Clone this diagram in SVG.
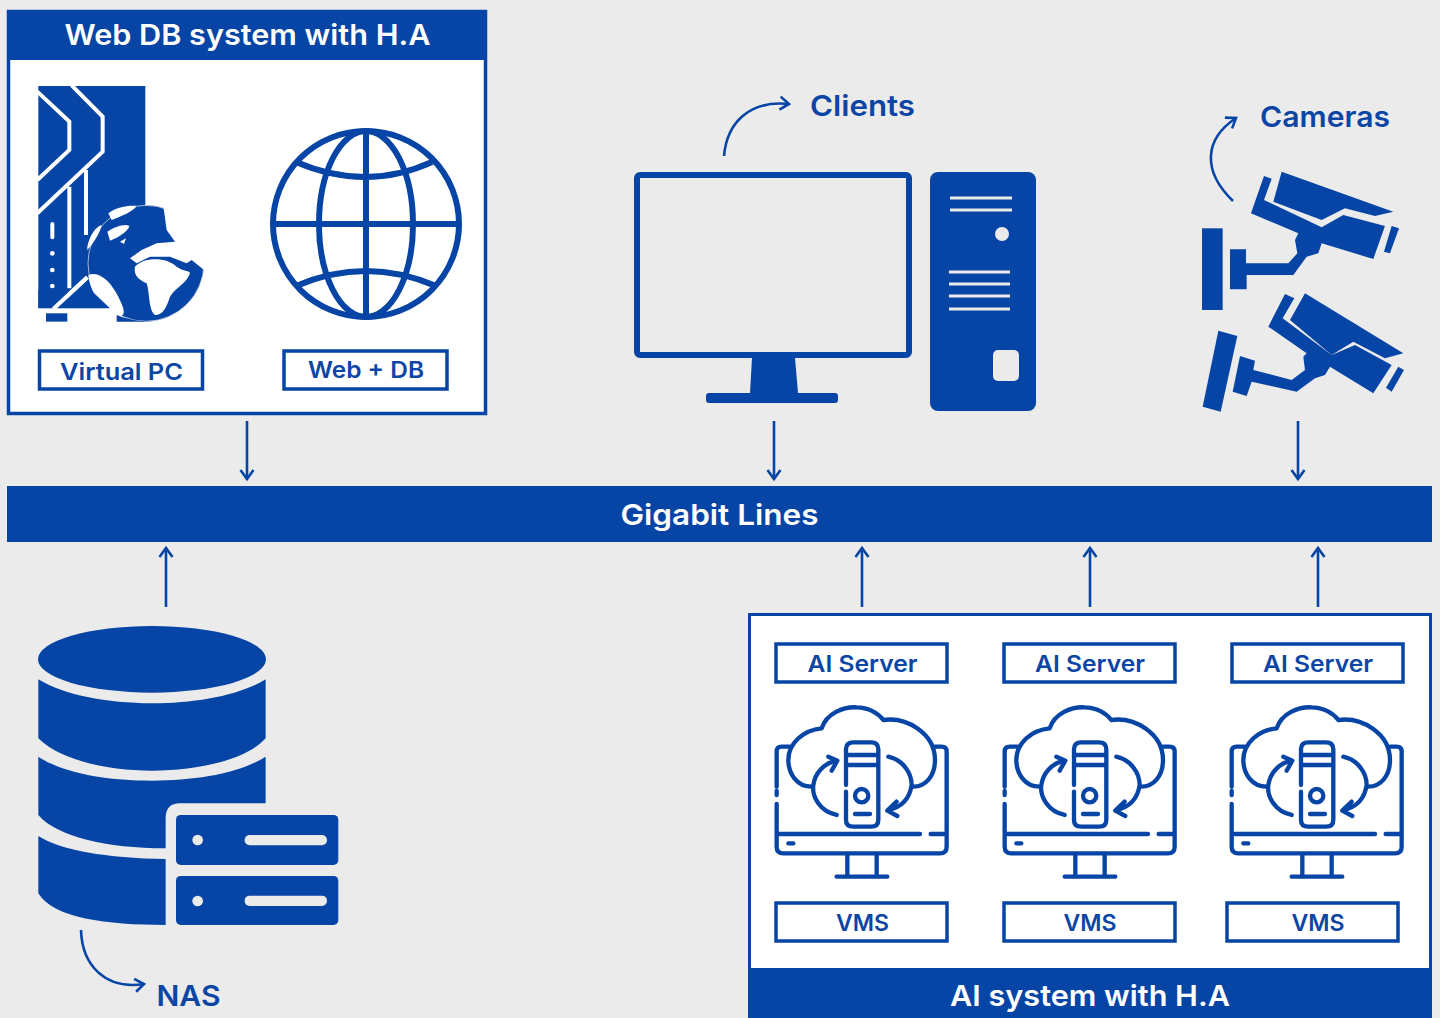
<svg xmlns="http://www.w3.org/2000/svg" width="1440" height="1018" viewBox="0 0 1440 1018">
<style>
text{font-family:"Inter","Liberation Sans",sans-serif;font-weight:600;text-anchor:middle;fill:#0b45a5}
.w{fill:#fff}
.b{fill:#0645a5}
.bg{fill:#ebebeb}
.box{fill:#fff;stroke:#0645a5;stroke-width:3.5}
.conn{fill:none;stroke:#0645a5;stroke-width:2.6}
.ic{fill:none;stroke:#0645a5;stroke-width:13;stroke-linecap:round;stroke-linejoin:round}
.wl{fill:none;stroke:#fff;stroke-width:12;stroke-linejoin:miter}
.gl{fill:none;stroke:#0645a5;stroke-width:6}
.t1{font-size:29px}
.t2{font-size:23px}
</style>
<defs>
<marker id="ah" viewBox="0 0 16 16" refX="13" refY="8" markerWidth="16" markerHeight="16" markerUnits="userSpaceOnUse" orient="auto"><path d="M4 1.5 L13 8 L4 14.500" fill="none" stroke="#0645a5" stroke-width="2.600"/></marker>
<g id="cloudIcon" class="ic" transform="translate(760 630) scale(.3333)">
<path d="M90 350H65Q50 350 50 365V470M50 483V495M50 522V650Q50 670 70 670H540Q560 670 560 650V365Q560 350 545 350H525M55 612H480M512 612H555M85 640H100M262 675V738M350 675V738M230 740H382"/>
<path d="M155 470C110 470 85 430 85 390C85 340 130 300 185 295C200 250 250 230 290 232C325 232 355 250 370 270C440 260 525 310 525 390C525 440 495 470 460 470"/>
<path d="M258 465V358Q258 337 280 337H333Q355 337 355 358V570Q355 590 333 590H280Q258 590 258 570V485M258 375H355M258 405H355M285 552H330"/>
<circle cx="305" cy="497" r="20"/>
<path d="M230 555C180 545 155 500 160 465C165 430 190 400 230 392M205 380L232 392L215 422"/>
<path d="M385 380C430 390 455 430 455 465C450 500 430 530 385 540M410 515L382 542L412 558"/>
</g>
</defs>
<rect class="bg" width="1440" height="1018"/>

<g id="connectors">
<path class="conn" marker-end="url(#ah)" d="M247 421V479"/>
<path class="conn" marker-end="url(#ah)" d="M774 421V479"/>
<path class="conn" marker-end="url(#ah)" d="M1298 421V479"/>
<path class="conn" marker-end="url(#ah)" d="M166 607V548"/>
<path class="conn" marker-end="url(#ah)" d="M862 607V548"/>
<path class="conn" marker-end="url(#ah)" d="M1090 607V548"/>
<path class="conn" marker-end="url(#ah)" d="M1318 607V548"/>
<path class="conn" marker-end="url(#ah)" d="M724 156C727 122 750 100 789 104"/>
<path class="conn" marker-end="url(#ah)" d="M1233 201C1203 172 1203 140 1236 118"/>
<path class="conn" marker-end="url(#ah)" d="M81 930C82 965 105 990 144 984"/>
</g>

<g id="web-db-system">
<rect class="box" x="8.500" y="11.500" width="477" height="402"/>
<rect class="b" x="7" y="10" width="480" height="50"/>
<text x="247.500" y="45" class="t1 w" textLength="366" lengthAdjust="spacingAndGlyphs" style="fill:#fff">Web DB system with H.A</text>
<g id="virtual-pc-icon" transform="scale(.3333)">
<path class="b" d="M115 258H436V925H115Z"/>
<circle class="b" cx="438" cy="790" r="174" stroke="#eeeeee" stroke-width="2"/>
<path class="w" d="M490 618L500 690L525 725L470 730L425 750L390 775L410 790L450 770L510 770L560 790L575 780L612 810L640 700L560 590Z"/>
<path class="w" d="M405 800C430 770 500 770 530 800C550 815 570 810 570 820C560 850 530 860 510 890C500 920 490 945 465 945C445 930 450 880 440 850C420 840 400 830 405 800Z"/>
<path class="w" d="M265 825C300 810 335 850 355 890C375 930 380 950 350 950C310 930 270 880 265 825Z"/>
<path class="w" d="M325 640C350 620 390 615 410 618C400 635 360 650 335 660Z"/>
<path class="w" d="M322 695C345 680 375 670 388 678C385 695 350 715 330 722Z"/>
<path class="w" d="M360 725L378 715L372 732Z"/>
<path class="w" d="M262 740C270 700 290 680 305 675C300 700 280 730 262 750Z"/>
<path class="wl" d="M112 275L208 365V450L112 540"/>
<path class="wl" d="M215 256L308 350V455L112 640"/>
<path class="wl" d="M208 560V865M258 510V705M262 832L160 927"/>
<path class="w" d="M340 925H115V970H350Z"/>
<path class="b" d="M115 870H205V925H115ZM185 925L262 860L330 925Z"/>
<path class="wl" d="M262 832L160 927"/>
<path class="wl" d="M157 672V712" stroke-linecap="round"/>
<circle class="w" cx="157" cy="760" r="7"/><circle class="w" cx="157" cy="810" r="7"/><circle class="w" cx="157" cy="858" r="7"/>
<rect class="b" x="138" y="940" width="64" height="25"/>
<path class="b" d="M350 945C400 965 440 965 470 965H350Z"/>
</g>
<g id="globe-icon">
<circle class="gl" cx="366" cy="224" r="93"/>
<ellipse class="gl" cx="366" cy="224" rx="47" ry="93"/>
<path class="gl" d="M366 131V317M273 224H459M296 162Q366 192 432 162M296 286Q366 256 436 286"/>
</g>
<g id="virtual-pc-label"><rect class="box" x="39.500" y="351" width="163" height="38"/><text x="121.500" y="380" class="t2" textLength="123" lengthAdjust="spacingAndGlyphs">Virtual PC</text></g>
<g id="web-db-label"><rect class="box" x="284" y="351" width="163" height="38"/><text x="366" y="378" class="t2" textLength="116" lengthAdjust="spacingAndGlyphs">Web + DB</text></g>
</g>

<g id="clients">
<rect x="637" y="175" width="272" height="180" rx="3" fill="none" stroke="#0645a5" stroke-width="6"/>
<path class="b" d="M752 358H795L798 393H750Z"/>
<rect class="b" x="706" y="393" width="132" height="10" rx="3"/>
<rect class="b" x="930" y="172" width="106" height="239" rx="8"/>
<path d="M950 198H1012M950 210H1012M949 272H1010M949 284H1010M949 296H1010M949 309H1010" stroke="#ebebeb" stroke-width="3" fill="none"/>
<circle class="bg" cx="1002" cy="234" r="7"/>
<rect class="bg" x="993" y="350" width="26" height="31" rx="5"/>
<text x="862.500" y="116" class="t1" textLength="105" lengthAdjust="spacingAndGlyphs">Clients</text>
</g>

<g id="cameras">
<g transform="translate(1190 90) scale(.3333)" class="b">
<path d="M275 245L610 365L555 378L465 355L395 390L250 335Z"/>
<path d="M222 258L245 266L222 330L395 412L460 375L585 408L550 507L395 460L385 490L350 500L310 555H170V598H120V478H168V520H295L322 490L315 450L325 430L183 370Z"/>
<path d="M605 408L627 415L600 490L582 485Z"/>
<rect x="36" y="415" width="62" height="245"/>
<path d="M345 610L640 790L585 805L490 755L425 795L300 690Z"/>
<path d="M285 612L313 625L278 685L425 795L495 765L605 825L550 910L420 830L405 855L375 865L320 905L185 875L170 918L128 905L150 798L195 812L190 840L305 870L345 840L340 800L350 790L235 710Z"/>
<path d="M625 830L642 840L605 905L588 893Z"/>
<path d="M85 722L142 738L92 965L38 950Z"/>
</g>
<text x="1325" y="127" class="t1" textLength="130" lengthAdjust="spacingAndGlyphs">Cameras</text>
</g>

<g id="gigabit-lines">
<rect class="b" x="7" y="486" width="1425" height="56"/>
<text x="719.500" y="525" class="t1" textLength="198" lengthAdjust="spacingAndGlyphs" style="fill:#fff">Gigabit Lines</text>
</g>

<g id="nas">
<g transform="translate(20 610) scale(.3333)">
<ellipse class="b" cx="396" cy="148" rx="342" ry="100"/>
<path class="b" d="M55 208C130 255 260 280 396 280C530 280 660 255 737 208V385C680 450 530 482 396 482C260 482 120 450 55 385Z"/>
<path class="b" d="M55 440C130 490 260 512 396 512C530 512 660 490 737 440V580H480Q437 580 437 625V715C260 715 110 680 55 615Z"/>
<path class="b" d="M55 678C120 720 260 745 437 747V945C260 945 100 925 55 850Z"/>
<rect class="b" x="468" y="615" width="487" height="150" rx="14"/>
<rect class="b" x="468" y="798" width="487" height="147" rx="14"/>
<circle class="bg" cx="533" cy="690" r="16"/><circle class="bg" cx="533" cy="873" r="16"/>
<rect class="bg" x="674" y="675" width="247" height="31" rx="15"/>
<rect class="bg" x="674" y="857" width="247" height="31" rx="15"/>
</g>
<text x="188.500" y="1006" class="t1" textLength="64" lengthAdjust="spacingAndGlyphs">NAS</text>
</g>

<g id="ai-system">
<rect class="w" x="749.500" y="614.500" width="681" height="404" stroke="#0645a5" stroke-width="3"/>
<rect class="b" x="748" y="968" width="684" height="50"/>
<text x="1090" y="1006" class="t1" textLength="280" lengthAdjust="spacingAndGlyphs" style="fill:#fff">AI system with H.A</text>
<g id="ai-server-1"><rect class="box" x="776" y="644" width="171" height="38"/><text x="862.500" y="672" class="t2" textLength="110" lengthAdjust="spacingAndGlyphs">AI Server</text><use href="#cloudIcon"/><rect class="box" x="776" y="903" width="171" height="38"/><text x="862.500" y="931" class="t2" textLength="53" lengthAdjust="spacingAndGlyphs">VMS</text></g>
<g id="ai-server-2"><rect class="box" x="1004" y="644" width="171" height="38"/><text x="1090" y="672" class="t2" textLength="110" lengthAdjust="spacingAndGlyphs">AI Server</text><use href="#cloudIcon" x="228"/><rect class="box" x="1004" y="903" width="171" height="38"/><text x="1090" y="931" class="t2" textLength="53" lengthAdjust="spacingAndGlyphs">VMS</text></g>
<g id="ai-server-3"><rect class="box" x="1232" y="644" width="171" height="38"/><text x="1318" y="672" class="t2" textLength="110" lengthAdjust="spacingAndGlyphs">AI Server</text><use href="#cloudIcon" x="455"/><rect class="box" x="1227" y="903" width="171" height="38"/><text x="1318" y="931" class="t2" textLength="53" lengthAdjust="spacingAndGlyphs">VMS</text></g>
</g>
</svg>
